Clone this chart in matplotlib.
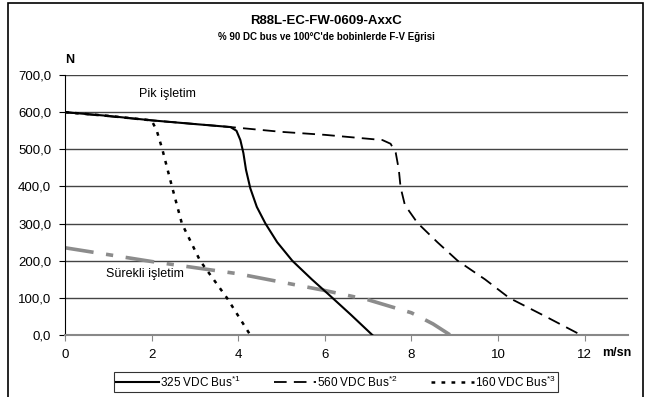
import matplotlib
matplotlib.use("Agg")
import matplotlib.pyplot as plt
from matplotlib.patches import Rectangle

plt.rcParams['font.family'] = ['Liberation Sans', 'DejaVu Sans']
plt.rcParams['mathtext.fontset'] = 'custom'
plt.rcParams['mathtext.rm'] = 'Liberation Sans'
plt.rcParams['mathtext.it'] = 'Liberation Sans'

# 325 VDC
x325 = [0, 1, 2, 3, 3.82, 3.96, 4.05, 4.12, 4.18, 4.28, 4.43, 4.63, 4.9, 5.25, 5.7, 6.13, 6.6, 7.1]
y325 = [600, 590, 578, 568, 560, 550, 525, 490, 445, 395, 345, 300, 250, 200, 150, 105, 55, 0]
# 560 VDC
x560 = [0, 2, 3.82, 5, 6, 7.33, 7.52, 7.64, 7.71, 7.75, 7.85, 8.14, 8.6, 9.07, 9.7, 10.26, 11.1, 11.92]
y560 = [600, 578, 560, 547, 539, 525, 515, 490, 445, 398, 350, 302, 250, 200, 150, 100, 50, 0]
# 160 VDC
x160 = [0, 1, 2, 2.12, 2.25, 2.47, 2.7, 3.12, 3.74, 4.28]
y160 = [600, 590, 578, 550, 499, 400, 300, 200, 100, 0]
# Sürekli işletim
xcont = [0, 2, 4, 6, 7, 8, 8.5, 8.9]
ycont = [235, 198, 165, 120, 95, 60, 30, 0]

yticks = [0, 100, 200, 300, 400, 500, 600, 700]
xticks = [0, 2, 4, 6, 8, 10, 12]

fig = plt.figure(figsize=(6.52, 3.97), dpi=100)
ax = fig.add_axes([0.0997, 0.156, 0.8633, 0.655])

for v in yticks[1:]:
    ax.axhline(v, color='#444444', lw=1, zorder=1)

ax.plot(xcont, ycont, color='#8c8c8c', lw=2.6, dashes=(8, 3.5, 2, 3.5), zorder=2)
l1, = ax.plot(x325, y325, color='black', lw=1.5, zorder=3, label=r'325 VDC Bus$^{*1}$')
l2, = ax.plot(x560, y560, color='black', lw=1.3, dashes=(7, 4), zorder=3, label=r'560 VDC Bus$^{*2}$')
l3, = ax.plot(x160, y160, color='black', lw=1.8, dashes=(1.5, 2.5), zorder=3, label=r'160 VDC Bus$^{*3}$')

ax.set_xlim(0, 13)
ax.set_ylim(0, 700)
ax.set_xticks(xticks)
ax.set_xticklabels([str(t) for t in xticks], fontsize=9.5)
ax.set_yticks(yticks)
ax.set_yticklabels([f'{t},0' for t in yticks], fontsize=9.5)
for s in ['top', 'right']:
    ax.spines[s].set_visible(False)
ax.spines['bottom'].set_color('#888888')
ax.spines['bottom'].set_linewidth(1.5)
ax.spines['left'].set_color('black')
ax.tick_params(axis='both', direction='out', length=4, pad=6)
ax.tick_params(axis='x', color='#888888')

ax.text(1.7, 640, 'Pik işletim', fontsize=9)
ax.text(0.95, 155, 'Sürekli işletim', fontsize=9)

fig.text(0.5, 0.948, 'R88L-EC-FW-0609-AxxC', ha='center', va='center', fontsize=9.5, fontweight='bold')
fig.text(0.5, 0.908, "% 90 DC bus ve 100°C'de bobinlerde F-V Eğrisi", ha='center', va='center',
         fontsize=7, fontweight='bold')
fig.text(0.107, 0.848, 'N', ha='center', va='center', fontsize=9, fontweight='bold')
fig.text(0.946, 0.11, 'm/sn', ha='center', va='center', fontsize=9, fontweight='bold')

leg = fig.legend(handles=[l1, l2, l3], loc='center', bbox_to_anchor=(0.515, 0.038), ncol=3,
                 fontsize=8.5, frameon=True, fancybox=False, edgecolor='black', handlelength=3.6,
                 columnspacing=2.8, borderpad=0.2, handletextpad=0.1, borderaxespad=0)
leg.get_frame().set_linewidth(0.8)

fig.patches.append(Rectangle((0.012, -0.05), 0.974, 1.042, transform=fig.transFigure,
                             fill=False, edgecolor='black', lw=1.2))

fig.savefig('out.png', dpi=100)
